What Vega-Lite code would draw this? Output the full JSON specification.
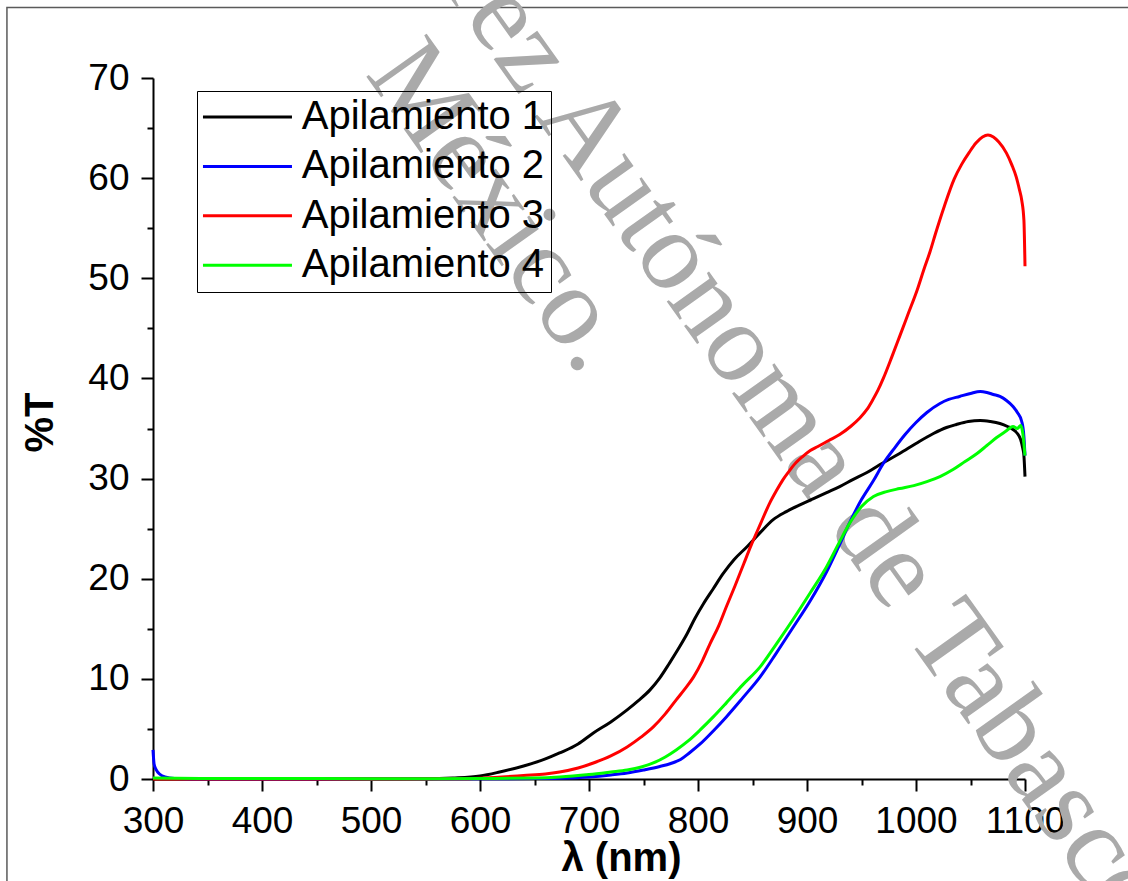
{
  "$schema": "https://vega.github.io/schema/vega-lite/v6.json",
  "width": 872,
  "height": 701,
  "autosize": {"type": "none"},
  "padding": {"left": 153, "top": 78, "right": 103, "bottom": 102},
  "background": "white",
  "config": {
    "view": {"stroke": null},
    "font": "Liberation Sans",
    "axis": {
      "grid": false,
      "domainColor": "black",
      "tickColor": "black",
      "labelColor": "black",
      "titleColor": "black",
      "domainWidth": 2,
      "tickWidth": 2,
      "labelFlush": false,
      "labelOverlap": false,
      "labelFont": "Liberation Sans",
      "titleFont": "Liberation Sans"
    }
  },
  "datasets": {
    "spectra": [
      {"serie": "Apilamiento 1", "nm": 300, "T": 0},
      {"serie": "Apilamiento 1", "nm": 350, "T": 0},
      {"serie": "Apilamiento 1", "nm": 400, "T": 0},
      {"serie": "Apilamiento 1", "nm": 450, "T": 0},
      {"serie": "Apilamiento 1", "nm": 500, "T": 0},
      {"serie": "Apilamiento 1", "nm": 550, "T": 0.02},
      {"serie": "Apilamiento 1", "nm": 575, "T": 0.1},
      {"serie": "Apilamiento 1", "nm": 600, "T": 0.3},
      {"serie": "Apilamiento 1", "nm": 618, "T": 0.7},
      {"serie": "Apilamiento 1", "nm": 640, "T": 1.3},
      {"serie": "Apilamiento 1", "nm": 660, "T": 2.0},
      {"serie": "Apilamiento 1", "nm": 673, "T": 2.6},
      {"serie": "Apilamiento 1", "nm": 690, "T": 3.5},
      {"serie": "Apilamiento 1", "nm": 704, "T": 4.6},
      {"serie": "Apilamiento 1", "nm": 720, "T": 5.7},
      {"serie": "Apilamiento 1", "nm": 735, "T": 6.9},
      {"serie": "Apilamiento 1", "nm": 745, "T": 7.8},
      {"serie": "Apilamiento 1", "nm": 756, "T": 8.9},
      {"serie": "Apilamiento 1", "nm": 765, "T": 10.1},
      {"serie": "Apilamiento 1", "nm": 774, "T": 11.6},
      {"serie": "Apilamiento 1", "nm": 782, "T": 13.0},
      {"serie": "Apilamiento 1", "nm": 790, "T": 14.5},
      {"serie": "Apilamiento 1", "nm": 797, "T": 16.0},
      {"serie": "Apilamiento 1", "nm": 805, "T": 17.5},
      {"serie": "Apilamiento 1", "nm": 814, "T": 19.0},
      {"serie": "Apilamiento 1", "nm": 823, "T": 20.5},
      {"serie": "Apilamiento 1", "nm": 833, "T": 21.9},
      {"serie": "Apilamiento 1", "nm": 845, "T": 23.2},
      {"serie": "Apilamiento 1", "nm": 857, "T": 24.6},
      {"serie": "Apilamiento 1", "nm": 869, "T": 25.9},
      {"serie": "Apilamiento 1", "nm": 881, "T": 26.7},
      {"serie": "Apilamiento 1", "nm": 894, "T": 27.4},
      {"serie": "Apilamiento 1", "nm": 906, "T": 28.0},
      {"serie": "Apilamiento 1", "nm": 918, "T": 28.6},
      {"serie": "Apilamiento 1", "nm": 930, "T": 29.2},
      {"serie": "Apilamiento 1", "nm": 942, "T": 29.9},
      {"serie": "Apilamiento 1", "nm": 955, "T": 30.6},
      {"serie": "Apilamiento 1", "nm": 967, "T": 31.4},
      {"serie": "Apilamiento 1", "nm": 985, "T": 32.5},
      {"serie": "Apilamiento 1", "nm": 1000, "T": 33.5},
      {"serie": "Apilamiento 1", "nm": 1016, "T": 34.5},
      {"serie": "Apilamiento 1", "nm": 1028, "T": 35.1},
      {"serie": "Apilamiento 1", "nm": 1037, "T": 35.4},
      {"serie": "Apilamiento 1", "nm": 1048, "T": 35.7},
      {"serie": "Apilamiento 1", "nm": 1059, "T": 35.8},
      {"serie": "Apilamiento 1", "nm": 1068, "T": 35.7},
      {"serie": "Apilamiento 1", "nm": 1077, "T": 35.5},
      {"serie": "Apilamiento 1", "nm": 1084, "T": 35.2},
      {"serie": "Apilamiento 1", "nm": 1089, "T": 34.9},
      {"serie": "Apilamiento 1", "nm": 1093, "T": 34.5},
      {"serie": "Apilamiento 1", "nm": 1096, "T": 33.9},
      {"serie": "Apilamiento 1", "nm": 1098, "T": 33.0},
      {"serie": "Apilamiento 1", "nm": 1099, "T": 32.3},
      {"serie": "Apilamiento 1", "nm": 1100, "T": 30.2},

      {"serie": "Apilamiento 2", "nm": 300, "T": 2.9},
      {"serie": "Apilamiento 2", "nm": 301, "T": 1.5},
      {"serie": "Apilamiento 2", "nm": 303, "T": 0.9},
      {"serie": "Apilamiento 2", "nm": 306, "T": 0.5},
      {"serie": "Apilamiento 2", "nm": 311, "T": 0.2},
      {"serie": "Apilamiento 2", "nm": 320, "T": 0.05},
      {"serie": "Apilamiento 2", "nm": 350, "T": 0},
      {"serie": "Apilamiento 2", "nm": 400, "T": 0},
      {"serie": "Apilamiento 2", "nm": 500, "T": 0},
      {"serie": "Apilamiento 2", "nm": 600, "T": 0.02},
      {"serie": "Apilamiento 2", "nm": 650, "T": 0.05},
      {"serie": "Apilamiento 2", "nm": 673, "T": 0.08},
      {"serie": "Apilamiento 2", "nm": 700, "T": 0.2},
      {"serie": "Apilamiento 2", "nm": 720, "T": 0.4},
      {"serie": "Apilamiento 2", "nm": 735, "T": 0.6},
      {"serie": "Apilamiento 2", "nm": 750, "T": 0.9},
      {"serie": "Apilamiento 2", "nm": 765, "T": 1.25},
      {"serie": "Apilamiento 2", "nm": 775, "T": 1.55},
      {"serie": "Apilamiento 2", "nm": 784, "T": 1.95},
      {"serie": "Apilamiento 2", "nm": 792, "T": 2.6},
      {"serie": "Apilamiento 2", "nm": 802, "T": 3.5},
      {"serie": "Apilamiento 2", "nm": 814, "T": 4.8},
      {"serie": "Apilamiento 2", "nm": 826, "T": 6.2},
      {"serie": "Apilamiento 2", "nm": 841, "T": 8.1},
      {"serie": "Apilamiento 2", "nm": 857, "T": 10.2},
      {"serie": "Apilamiento 2", "nm": 872, "T": 12.6},
      {"serie": "Apilamiento 2", "nm": 887, "T": 15.1},
      {"serie": "Apilamiento 2", "nm": 903, "T": 17.8},
      {"serie": "Apilamiento 2", "nm": 918, "T": 20.7},
      {"serie": "Apilamiento 2", "nm": 929, "T": 23.2},
      {"serie": "Apilamiento 2", "nm": 940, "T": 25.8},
      {"serie": "Apilamiento 2", "nm": 950, "T": 27.9},
      {"serie": "Apilamiento 2", "nm": 961, "T": 29.8},
      {"serie": "Apilamiento 2", "nm": 970, "T": 31.5},
      {"serie": "Apilamiento 2", "nm": 980, "T": 33.0},
      {"serie": "Apilamiento 2", "nm": 990, "T": 34.4},
      {"serie": "Apilamiento 2", "nm": 1000, "T": 35.6},
      {"serie": "Apilamiento 2", "nm": 1010, "T": 36.6},
      {"serie": "Apilamiento 2", "nm": 1022, "T": 37.5},
      {"serie": "Apilamiento 2", "nm": 1030, "T": 37.9},
      {"serie": "Apilamiento 2", "nm": 1040, "T": 38.2},
      {"serie": "Apilamiento 2", "nm": 1050, "T": 38.5},
      {"serie": "Apilamiento 2", "nm": 1059, "T": 38.7},
      {"serie": "Apilamiento 2", "nm": 1065, "T": 38.6},
      {"serie": "Apilamiento 2", "nm": 1071, "T": 38.4},
      {"serie": "Apilamiento 2", "nm": 1077, "T": 38.2},
      {"serie": "Apilamiento 2", "nm": 1083, "T": 37.8},
      {"serie": "Apilamiento 2", "nm": 1089, "T": 37.2},
      {"serie": "Apilamiento 2", "nm": 1093, "T": 36.6},
      {"serie": "Apilamiento 2", "nm": 1097, "T": 35.7},
      {"serie": "Apilamiento 2", "nm": 1099, "T": 34.2},
      {"serie": "Apilamiento 2", "nm": 1100, "T": 32.3},

      {"serie": "Apilamiento 3", "nm": 300, "T": 0},
      {"serie": "Apilamiento 3", "nm": 400, "T": 0},
      {"serie": "Apilamiento 3", "nm": 500, "T": 0},
      {"serie": "Apilamiento 3", "nm": 580, "T": 0.02},
      {"serie": "Apilamiento 3", "nm": 600, "T": 0.08},
      {"serie": "Apilamiento 3", "nm": 620, "T": 0.2},
      {"serie": "Apilamiento 3", "nm": 640, "T": 0.35},
      {"serie": "Apilamiento 3", "nm": 660, "T": 0.5},
      {"serie": "Apilamiento 3", "nm": 673, "T": 0.7},
      {"serie": "Apilamiento 3", "nm": 690, "T": 1.1},
      {"serie": "Apilamiento 3", "nm": 704, "T": 1.6},
      {"serie": "Apilamiento 3", "nm": 720, "T": 2.3},
      {"serie": "Apilamiento 3", "nm": 735, "T": 3.2},
      {"serie": "Apilamiento 3", "nm": 748, "T": 4.2},
      {"serie": "Apilamiento 3", "nm": 759, "T": 5.2},
      {"serie": "Apilamiento 3", "nm": 770, "T": 6.5},
      {"serie": "Apilamiento 3", "nm": 780, "T": 7.9},
      {"serie": "Apilamiento 3", "nm": 788, "T": 9.0},
      {"serie": "Apilamiento 3", "nm": 796, "T": 10.2},
      {"serie": "Apilamiento 3", "nm": 804, "T": 11.8},
      {"serie": "Apilamiento 3", "nm": 811, "T": 13.5},
      {"serie": "Apilamiento 3", "nm": 819, "T": 15.3},
      {"serie": "Apilamiento 3", "nm": 826, "T": 17.2},
      {"serie": "Apilamiento 3", "nm": 834, "T": 19.3},
      {"serie": "Apilamiento 3", "nm": 842, "T": 21.5},
      {"serie": "Apilamiento 3", "nm": 849, "T": 23.4},
      {"serie": "Apilamiento 3", "nm": 857, "T": 25.4},
      {"serie": "Apilamiento 3", "nm": 866, "T": 27.6},
      {"serie": "Apilamiento 3", "nm": 872, "T": 28.8},
      {"serie": "Apilamiento 3", "nm": 878, "T": 29.9},
      {"serie": "Apilamiento 3", "nm": 884, "T": 30.8},
      {"serie": "Apilamiento 3", "nm": 890, "T": 31.6},
      {"serie": "Apilamiento 3", "nm": 896, "T": 32.2},
      {"serie": "Apilamiento 3", "nm": 903, "T": 32.8},
      {"serie": "Apilamiento 3", "nm": 910, "T": 33.2},
      {"serie": "Apilamiento 3", "nm": 920, "T": 33.8},
      {"serie": "Apilamiento 3", "nm": 930, "T": 34.4},
      {"serie": "Apilamiento 3", "nm": 940, "T": 35.2},
      {"serie": "Apilamiento 3", "nm": 948, "T": 36.0},
      {"serie": "Apilamiento 3", "nm": 955, "T": 36.9},
      {"serie": "Apilamiento 3", "nm": 960, "T": 37.8},
      {"serie": "Apilamiento 3", "nm": 965, "T": 38.8},
      {"serie": "Apilamiento 3", "nm": 970, "T": 40.0},
      {"serie": "Apilamiento 3", "nm": 978, "T": 42.2},
      {"serie": "Apilamiento 3", "nm": 985, "T": 44.2},
      {"serie": "Apilamiento 3", "nm": 993, "T": 46.5},
      {"serie": "Apilamiento 3", "nm": 1001, "T": 48.8},
      {"serie": "Apilamiento 3", "nm": 1007, "T": 50.8},
      {"serie": "Apilamiento 3", "nm": 1013, "T": 52.7},
      {"serie": "Apilamiento 3", "nm": 1018, "T": 54.5},
      {"serie": "Apilamiento 3", "nm": 1026, "T": 57.2},
      {"serie": "Apilamiento 3", "nm": 1035, "T": 59.9},
      {"serie": "Apilamiento 3", "nm": 1042, "T": 61.4},
      {"serie": "Apilamiento 3", "nm": 1049, "T": 62.6},
      {"serie": "Apilamiento 3", "nm": 1055, "T": 63.5},
      {"serie": "Apilamiento 3", "nm": 1061, "T": 64.1},
      {"serie": "Apilamiento 3", "nm": 1066, "T": 64.3},
      {"serie": "Apilamiento 3", "nm": 1071, "T": 64.1},
      {"serie": "Apilamiento 3", "nm": 1076, "T": 63.6},
      {"serie": "Apilamiento 3", "nm": 1083, "T": 62.5},
      {"serie": "Apilamiento 3", "nm": 1088, "T": 61.3},
      {"serie": "Apilamiento 3", "nm": 1092, "T": 60.1},
      {"serie": "Apilamiento 3", "nm": 1095, "T": 58.8},
      {"serie": "Apilamiento 3", "nm": 1097, "T": 57.8},
      {"serie": "Apilamiento 3", "nm": 1099, "T": 55.8},
      {"serie": "Apilamiento 3", "nm": 1100, "T": 51.2},

      {"serie": "Apilamiento 4", "nm": 300, "T": 0.1},
      {"serie": "Apilamiento 4", "nm": 350, "T": 0.05},
      {"serie": "Apilamiento 4", "nm": 400, "T": 0.05},
      {"serie": "Apilamiento 4", "nm": 500, "T": 0.03},
      {"serie": "Apilamiento 4", "nm": 600, "T": 0.05},
      {"serie": "Apilamiento 4", "nm": 650, "T": 0.1},
      {"serie": "Apilamiento 4", "nm": 673, "T": 0.2},
      {"serie": "Apilamiento 4", "nm": 700, "T": 0.45},
      {"serie": "Apilamiento 4", "nm": 720, "T": 0.7},
      {"serie": "Apilamiento 4", "nm": 735, "T": 0.9},
      {"serie": "Apilamiento 4", "nm": 748, "T": 1.2},
      {"serie": "Apilamiento 4", "nm": 759, "T": 1.6},
      {"serie": "Apilamiento 4", "nm": 770, "T": 2.2},
      {"serie": "Apilamiento 4", "nm": 780, "T": 2.9},
      {"serie": "Apilamiento 4", "nm": 791, "T": 3.8},
      {"serie": "Apilamiento 4", "nm": 802, "T": 4.9},
      {"serie": "Apilamiento 4", "nm": 814, "T": 6.2},
      {"serie": "Apilamiento 4", "nm": 826, "T": 7.6},
      {"serie": "Apilamiento 4", "nm": 841, "T": 9.4},
      {"serie": "Apilamiento 4", "nm": 857, "T": 11.2},
      {"serie": "Apilamiento 4", "nm": 872, "T": 13.5},
      {"serie": "Apilamiento 4", "nm": 887, "T": 15.9},
      {"serie": "Apilamiento 4", "nm": 903, "T": 18.6},
      {"serie": "Apilamiento 4", "nm": 918, "T": 21.2},
      {"serie": "Apilamiento 4", "nm": 929, "T": 23.5},
      {"serie": "Apilamiento 4", "nm": 940, "T": 25.7},
      {"serie": "Apilamiento 4", "nm": 950, "T": 27.2},
      {"serie": "Apilamiento 4", "nm": 961, "T": 28.2},
      {"serie": "Apilamiento 4", "nm": 973, "T": 28.7},
      {"serie": "Apilamiento 4", "nm": 985, "T": 29.0},
      {"serie": "Apilamiento 4", "nm": 998, "T": 29.3},
      {"serie": "Apilamiento 4", "nm": 1010, "T": 29.7},
      {"serie": "Apilamiento 4", "nm": 1022, "T": 30.2},
      {"serie": "Apilamiento 4", "nm": 1034, "T": 30.9},
      {"serie": "Apilamiento 4", "nm": 1045, "T": 31.7},
      {"serie": "Apilamiento 4", "nm": 1056, "T": 32.5},
      {"serie": "Apilamiento 4", "nm": 1065, "T": 33.3},
      {"serie": "Apilamiento 4", "nm": 1074, "T": 34.1},
      {"serie": "Apilamiento 4", "nm": 1082, "T": 34.7},
      {"serie": "Apilamiento 4", "nm": 1089, "T": 35.2},
      {"serie": "Apilamiento 4", "nm": 1093, "T": 35.0},
      {"serie": "Apilamiento 4", "nm": 1096, "T": 35.3},
      {"serie": "Apilamiento 4", "nm": 1098, "T": 34.5},
      {"serie": "Apilamiento 4", "nm": 1099, "T": 33.5},
      {"serie": "Apilamiento 4", "nm": 1100, "T": 32.3}
    ]
  },
  "resolve": {"axis": {"x": "independent", "y": "independent"}},
  "layer": [
    {
      "data": {"values": [{}]},
      "mark": {"type": "rect", "fill": "transparent", "stroke": "#5a5a5a", "strokeWidth": 1.5, "clip": false},
      "encoding": {
        "x": {"datum": 166, "type": "quantitative", "scale": {"domain": [300, 1100], "nice": false, "zero": false},
              "axis": {"orient": "bottom", "values": [350, 450, 550, 650, 750, 850, 950, 1050], "tickSize": 6, "labels": false, "domain": false, "title": null}},
        "x2": {"datum": 1206},
        "y": {"datum": 77.05, "type": "quantitative", "scale": {"domain": [0, 70], "nice": false, "zero": false},
              "axis": {"orient": "left", "values": [5, 15, 25, 35, 45, 55, 65], "tickSize": 6, "labels": false, "domain": false, "title": null}},
        "y2": {"datum": -12}
      }
    },
    {
      "data": {"values": [{}]},
      "mark": {"type": "text", "text": "Juárez Autónoma de Tabasco", "font": "Liberation Serif", "fontSize": 113, "angle": 54.5, "align": "left", "baseline": "alphabetic", "color": "#aaaaaa", "clip": false},
      "encoding": {
        "x": {"datum": 484, "type": "quantitative", "scale": {"domain": [300, 1100], "nice": false, "zero": false}, "axis": null},
        "y": {"datum": 91.5, "type": "quantitative", "scale": {"domain": [0, 70], "nice": false, "zero": false}, "axis": null}
      }
    },
    {
      "data": {"values": [{}]},
      "mark": {"type": "text", "text": "México.", "font": "Liberation Serif", "fontSize": 113, "angle": 54.5, "align": "left", "baseline": "alphabetic", "color": "#aaaaaa", "clip": false},
      "encoding": {
        "x": {"datum": 494, "type": "quantitative", "scale": {"domain": [300, 1100], "nice": false, "zero": false}, "axis": null},
        "y": {"datum": 70.4, "type": "quantitative", "scale": {"domain": [0, 70], "nice": false, "zero": false}, "axis": null}
      }
    },
    {
      "data": {"name": "spectra"},
      "mark": {"type": "line", "strokeWidth": 3, "clip": false, "interpolate": "monotone"},
      "encoding": {
        "x": {"field": "nm", "type": "quantitative", "scale": {"domain": [300, 1100], "nice": false, "zero": false},
              "axis": {"orient": "bottom", "values": [300, 400, 500, 600, 700, 800, 900, 1000, 1100], "format": "d", "tickSize": 12, "labelFontSize": 37, "labelPadding": 12,
                       "title": "λ (nm)", "titleFontSize": 40, "titleFontWeight": "bold", "titleX": 468, "titleY": 79, "titleAlign": "center", "titleBaseline": "middle", "titleAnchor": null}},
        "y": {"field": "T", "type": "quantitative", "scale": {"domain": [0, 70], "nice": false, "zero": false},
              "axis": {"orient": "left", "values": [0, 10, 20, 30, 40, 50, 60, 70], "format": "d", "tickSize": 12, "labelFontSize": 37, "labelPadding": 12,
                       "title": "%T", "titleFontSize": 40, "titleFontWeight": "bold", "titleX": -113, "titleY": 344, "titleAlign": "center", "titleBaseline": "middle", "titleAngle": -90}},
        "color": {"field": "serie", "type": "nominal",
                  "scale": {"domain": ["Apilamiento 1", "Apilamiento 2", "Apilamiento 3", "Apilamiento 4"], "range": ["#000000", "#0000ff", "#ff0000", "#00ff00"]},
                  "legend": {"orient": "none", "legendX": 44, "legendY": 13, "title": null, "symbolType": "M-1.8,0H6.2", "symbolSize": 495, "symbolStrokeWidth": 3,
                             "labelFontSize": 40, "labelFont": "Liberation Sans", "labelColor": "black", "labelOffset": 58.75, "padding": 6, "rowPadding": 9.4,
                             "strokeColor": "black", "labelLimit": 0}}
      }
    }
  ]
}
